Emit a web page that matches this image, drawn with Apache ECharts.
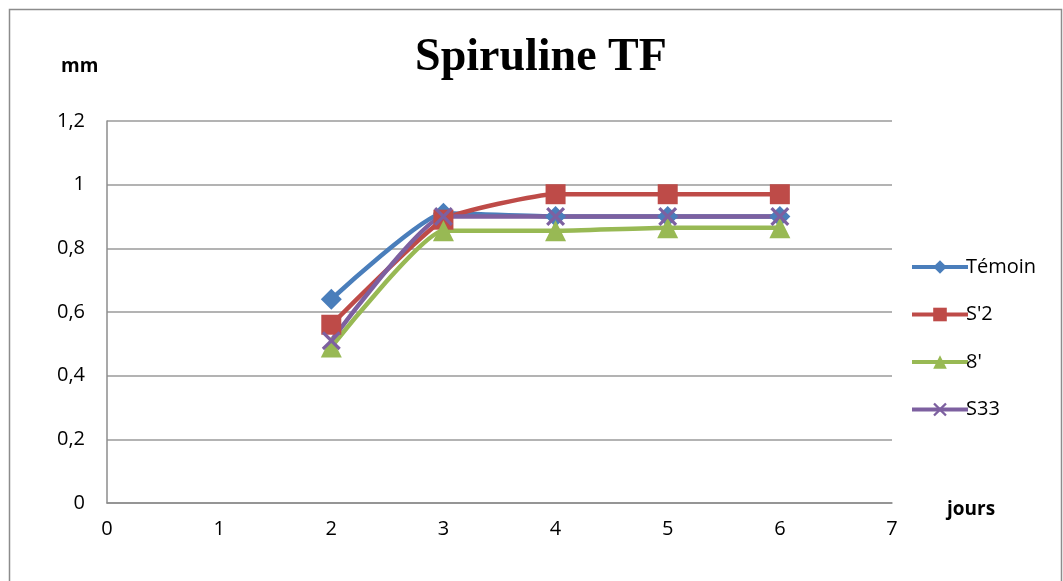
<!DOCTYPE html>
<html><head><meta charset="utf-8">
<script src="https://cdn.jsdelivr.net/npm/echarts@6/dist/echarts.min.js"></script>
<style>html,body{margin:0;padding:0;background:#fff}#c{width:1063px;height:581px}</style>
</head><body><div id="c"></div>
<script>
const days = [2, 3, 4, 5, 6];
const temoin = [0.64, 0.91, 0.90, 0.90, 0.90];
const s2 = [0.56, 0.89, 0.97, 0.97, 0.97];
const huit = [0.49, 0.855, 0.855, 0.865, 0.865];
const s33 = [0.51, 0.90, 0.90, 0.90, 0.90];
const seriesNames = ['Témoin', "S'2", "8'", 'S33'];
const colors = ['#4A7EBB', '#BE4B48', '#98B954', '#7D60A0'];

const pair = v => days.map((d, i) => [d, v[i]]);
const cross = 'path://M0,1.2L1.2,0L5,3.8L8.8,0L10,1.2L6.2,5L10,8.8L8.8,10L5,6.2L1.2,10L0,8.8L3.8,5Z';
const symbols = ['diamond', 'rect', 'triangle', cross];
const sizes = [21, 20, 21, 19];
const vals = [temoin, s2, huit, s33];

const chart = echarts.init(document.getElementById('c'));
chart.setOption({
  animation: false,
  title: {text: 'Spiruline TF', left: 536, textAlign: 'center', top: 30,
    textStyle: {fontFamily: 'Liberation Serif', fontWeight: 'bold', fontSize: 46, color: '#000'}},
  color: colors,
  grid: {left: 107, right: 171, top: 121, bottom: 78},
  legend: {orient: 'vertical', left: 905, top: 252, itemGap: 27.5, itemWidth: 56, itemHeight: 17,
    lineStyle: {width: 4},
    textStyle: {fontFamily: 'Open Sans', fontSize: 20, color: '#000', padding: [0,0,0,-7]},
    data: seriesNames},
  xAxis: {type: 'value', min: 0, max: 7, interval: 1,
    axisLine: {show: true, lineStyle: {color: '#8c8c8c', width: 1.5}},
    axisTick: {show: false}, splitLine: {show: false},
    axisLabel: {fontFamily: 'Open Sans', fontSize: 20, color: '#000', margin: 16}},
  yAxis: {type: 'value', min: 0, max: 1.2, interval: 0.2,
    axisLine: {show: true, lineStyle: {color: '#8c8c8c', width: 1.5}},
    axisTick: {show: false},
    splitLine: {lineStyle: {color: '#9a9a9a', width: 1.5}},
    axisLabel: {fontFamily: 'Open Sans', fontSize: 20, color: '#000', margin: 22,
      formatter: v => String(Math.round(v * 10) / 10).replace('.', ',')}},
  graphic: [
    {type: 'rect', shape: {x: 9.5, y: 9.5, width: 1052, height: 575}, style: {fill: 'none', stroke: '#8c8c8c', lineWidth: 1.5}},
    {type: 'text', left: 61, top: 57, style: {text: 'mm', font: 'bold 19px "Open Sans"', fill: '#000'}},
    {type: 'text', left: 947, top: 500, style: {text: 'jours', font: 'bold 19px "Open Sans"', fill: '#000'}}
  ],
  series: seriesNames.map((n, i) => ({
    name: n, type: 'line', data: pair(vals[i]), smooth: 0.15,
    symbol: symbols[i], symbolSize: sizes[i], showAllSymbol: true,
    lineStyle: {width: 4.5, color: colors[i]},
    itemStyle: {color: colors[i]}
  }))
});
</script></body></html>
